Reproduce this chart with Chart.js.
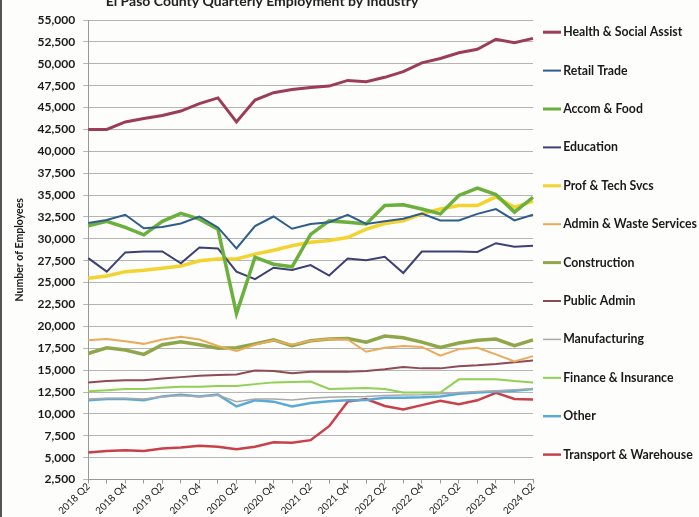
<!DOCTYPE html>
<html><head><meta charset="utf-8">
<script src="https://cdn.jsdelivr.net/npm/chart.js@4.4.1/dist/chart.umd.min.js"></script>
<style>
html,body{margin:0;padding:0;background:#fdfdfb;}
#wrap{position:relative;width:699px;height:517px;overflow:hidden;}
#edge{position:absolute;left:0;top:0;width:2px;height:517px;background:#555;}
</style></head><body>
<div id="wrap"><canvas id="c" width="699" height="517"></canvas><div id="edge"></div></div>
<script>
const quarters = ['2018 Q2','2018 Q3','2018 Q4','2019 Q1','2019 Q2','2019 Q3','2019 Q4',
  '2020 Q1','2020 Q2','2020 Q3','2020 Q4','2021 Q1','2021 Q2','2021 Q3','2021 Q4',
  '2022 Q1','2022 Q2','2022 Q3','2022 Q4','2023 Q1','2023 Q2','2023 Q3','2023 Q4','2024 Q1','2024 Q2'];
const yTicks = {min: 2500, max: 55000, step: 2500};
const chartTitle = 'El Paso County Quarterly Employment by Industry';
const yTitle = 'Number of Employees';

const health = [42500,42500,43350,43750,44100,44600,45450,46100,43350,45850,46700,47050,47300,47450,48100,47950,48450,49100,50100,50600,51250,51650,52800,52400,52900];
const retail = [31800,32150,32750,31200,31350,31750,32550,31300,28900,31450,32550,31150,31700,31900,32750,31700,32000,32300,32900,32100,32100,32850,33400,32100,32750];
const accom = [31500,32000,31300,30450,32000,32900,32250,31100,21450,27900,27100,26800,30500,32050,31900,31700,33800,33900,33400,32850,34950,35800,35050,33050,34750];
const education = [27800,26250,28450,28550,28550,27200,29000,28900,26250,25400,26700,26450,27000,25800,27750,27550,27950,26100,28550,28550,28550,28500,29500,29100,29200];
const profTech = [25500,25750,26250,26400,26650,26900,27500,27700,27700,28250,28700,29200,29600,29800,30150,31100,31750,32050,32850,33400,33800,33800,34800,33600,34300];
const adminWaste = [18400,18550,18300,18000,18500,18800,18500,17750,17200,17900,18400,17900,18350,18550,18500,17100,17550,17750,17650,16650,17400,17550,16800,16000,16600];
const construction = [16900,17550,17300,16800,17900,18250,17900,17500,17550,18000,18450,17800,18350,18550,18600,18200,18900,18700,18200,17600,18100,18400,18550,17800,18450];
const publicAdmin = [13600,13750,13850,13850,14050,14200,14350,14450,14500,14950,14900,14650,14800,14800,14800,14900,15100,15350,15200,15200,15450,15550,15700,15900,16100];
const manufacturing = [11700,11800,11800,11700,11950,12100,11950,12150,11400,11700,11700,11600,11800,11900,11950,12000,12100,12150,12200,12300,12450,12550,12650,12750,12850];
const finance = [12600,12700,12850,12850,13000,13100,13100,13200,13200,13400,13600,13650,13700,12850,12900,12950,12850,12450,12450,12450,13950,13950,13950,13750,13600];
const other = [11550,11700,11700,11550,12000,12200,12000,12200,10850,11550,11400,10850,11250,11450,11550,11600,11850,11850,11900,12000,12300,12450,12550,12650,12850];
const transport = [5600,5750,5850,5750,6050,6150,6350,6250,5950,6250,6750,6700,7000,8600,11400,11700,10900,10500,11000,11500,11100,11550,12400,11700,11650];

const series = [
  ['Health & Social Assist', health, '#9C3C5C', 3],
  ['Retail Trade', retail, '#2F5D8C', 2],
  ['Accom & Food', accom, '#6BAF3C', 3.5],
  ['Education', education, '#3B4075', 2],
  ['Prof & Tech Svcs', profTech, '#F2D330', 3.5],
  ['Admin & Waste Services', adminWaste, '#EAAA5C', 2],
  ['Construction', construction, '#8FA64A', 3.5],
  ['Public Admin', publicAdmin, '#8E4A55', 2],
  ['Manufacturing', manufacturing, '#A9A9A9', 1.5],
  ['Finance & Insurance', finance, '#90D055', 2],
  ['Other', other, '#5AAAD8', 2.5],
  ['Transport & Warehouse', transport, '#C8404A', 2.5]
];

const FONT = 'Lato, "Open Sans", sans-serif';
const BOXW = 24;

const decor = {
  id: 'decor',
  afterDraw(chart) {
    const ctx = chart.ctx;
    ctx.save();
    ctx.font = 'bold 14px ' + FONT;
    ctx.fillStyle = '#222';
    ctx.textAlign = 'center';
    ctx.textBaseline = 'alphabetic';
    ctx.fillText(chartTitle, 262, 6);
    const lg = chart.legend;
    if (lg && lg.legendHitBoxes) {
      lg.legendHitBoxes.forEach((hb, i) => {
        const ds = chart.data.datasets[i];
        const cy = hb.top + hb.height / 2;
        const tx = hb.left + BOXW + 6;
        ctx.beginPath();
        ctx.strokeStyle = ds.borderColor;
        ctx.lineWidth = Math.min(ds.borderWidth, 3);
        ctx.setLineDash(ds.borderDash || []);
        ctx.moveTo(tx - 20, cy);
        ctx.lineTo(tx - 2, cy);
        ctx.stroke();
      });
    }
    ctx.restore();
  }
};

new Chart(document.getElementById('c'), {
  type: 'line',
  data: {
    labels: quarters,
    datasets: series.map(([name, vals, col, w]) => ({
      label: name, data: vals, borderColor: col, backgroundColor: col,
      borderWidth: w, pointRadius: 0, tension: 0, fill: false
    }))
  },
  options: {
    responsive: false,
    animation: false,
    layout: {padding: {top: 13, left: 13, right: 0, bottom: 3}},
    plugins: {
      title: {display: false},
      tooltip: {enabled: false},
      legend: {
        position: 'right',
        align: 'start',
        maxWidth: 166,
        labels: {
          boxWidth: BOXW,
          boxHeight: 38.4,
          padding: 0,
          color: '#1a1a1a',
          font: {family: FONT, size: 12.3, weight: 'bold'},
          generateLabels(chart) {
            return Chart.defaults.plugins.legend.labels.generateLabels(chart).map(l => {
              l.fillStyle = 'rgba(0,0,0,0)';
              l.strokeStyle = 'rgba(0,0,0,0)';
              l.lineWidth = 0;
              return l;
            });
          }
        }
      }
    },
    scales: {
      x: {
        offset: false,
        grid: {display: true, drawOnChartArea: false, drawTicks: true, tickLength: 4, color: '#999'},
        border: {color: '#999'},
        ticks: {
          autoSkip: false, minRotation: 45, maxRotation: 45, padding: -3,
          color: '#222', font: {family: FONT, size: 10},
          callback: (v, i) => (i % 2 === 0 ? quarters[i] : '')
        }
      },
      y: {
        min: yTicks.min, max: yTicks.max,
        afterFit: s => { s.paddingTop = 20; },
        grid: {color: '#B5B5B5', tickLength: 5},
        border: {color: '#999'},
        ticks: {
          stepSize: yTicks.step, padding: 8, color: '#1a1a1a',
          font: {family: FONT, size: 12, weight: 'bold'},
          callback: v => v.toLocaleString('en-US')
        },
        title: {display: true, text: yTitle, color: '#1a1a1a', font: {family: FONT, size: 10.5, weight: 'bold'}, padding: {top: 0, bottom: 4}}
      }
    }
  },
  plugins: [decor]
});
</script>
</body></html>
